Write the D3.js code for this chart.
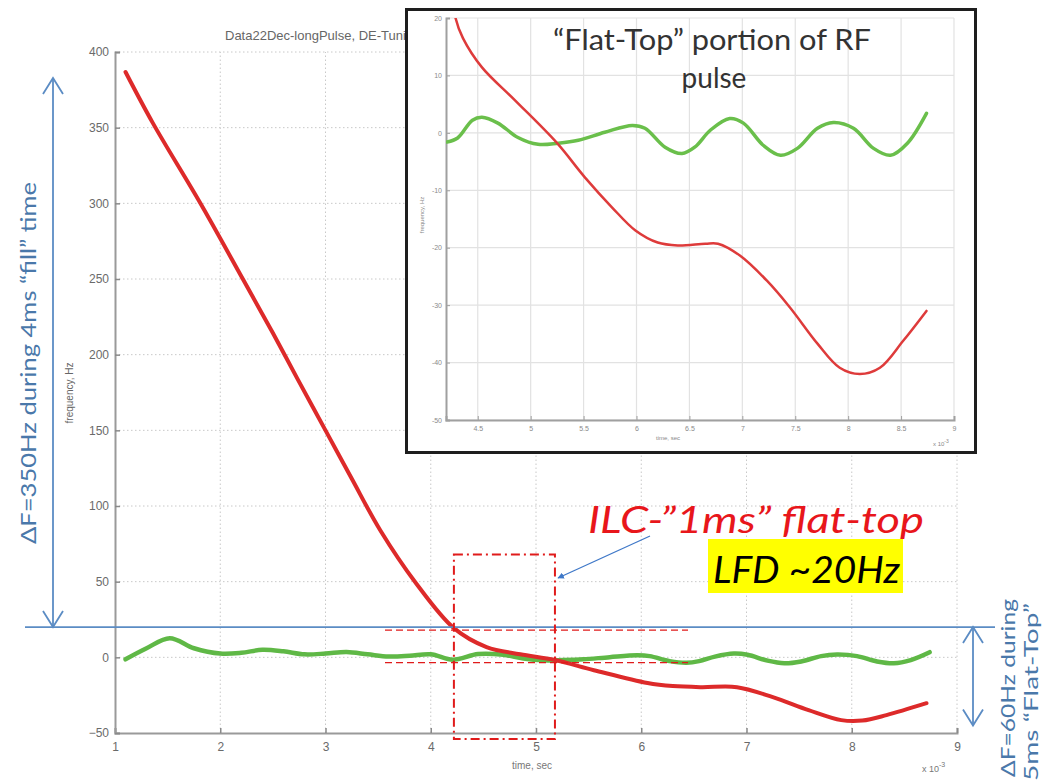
<!DOCTYPE html>
<html>
<head>
<meta charset="utf-8">
<script src="https://cdn.jsdelivr.net/npm/d3@7"></script>
<style>
  body { margin: 0; background: #fff; }
  svg { display: block; }
</style>
</head>
<body>
<div id="chart"></div>
<script>
// main plot: time (x 1e-3 s) vs frequency (Hz)
const mainXTicks = [1, 2, 3, 4, 5, 6, 7, 8, 9];
const mainYTicks = [-50, 0, 50, 100, 150, 200, 250, 300, 350, 400];
const mainRed = [
  [1.10, 386.8], [1.36, 353], [1.81, 300.2], [2.22, 249.3], [2.50, 214.3], [2.73, 184.5],
  [3.00, 150], [3.25, 118], [3.52, 84], [3.86, 49], [4.22, 19.3], [4.53, 6.8], [4.85, 2],
  [5.18, -1.8], [5.55, -8.5], [6.06, -17], [6.30, -19], [6.57, -19.7], [6.91, -19.7],
  [7.25, -26.3], [7.59, -34.9], [7.90, -41.5], [8.10, -41.8], [8.33, -38.2], [8.71, -30.3]
];
const mainGreen = [
  [1.10, -1.3], [1.30, 6], [1.52, 12.6], [1.75, 6], [2.0, 2.5], [2.2, 3], [2.4, 5], [2.6, 4],
  [2.8, 2], [3.0, 2.5], [3.2, 3.5], [3.4, 2], [3.6, 0.5], [3.8, 1], [4.0, 2], [4.21, -1.6],
  [4.45, 2.2], [4.69, 1.7], [4.88, -0.8], [5.07, -2.0], [5.26, -1.8], [5.45, -1.3], [5.70, 0.1],
  [5.96, 1.3], [6.08, 0.8], [6.27, -2.5], [6.43, -3.6], [6.55, -2.5], [6.70, 0.5], [6.88, 2.5],
  [7.01, 1.7], [7.20, -2.2], [7.36, -3.9], [7.52, -2.7], [7.71, 0.8], [7.86, 1.8], [8.05, 0.8],
  [8.24, -2.7], [8.40, -3.9], [8.56, -1.8], [8.74, 3.4]
];

// inset: flat-top portion
const insetXTicks = [4.5, 5, 5.5, 6, 6.5, 7, 7.5, 8, 8.5, 9];
const insetYTicks = [-50, -40, -30, -20, -10, 0, 10, 20];
const insetRed = [
  [4.25, 26], [4.29, 20], [4.36, 16.5], [4.54, 11.4], [4.85, 5.7], [5.25, -1.8], [5.51, -7.7],
  [5.77, -13.0], [5.99, -17.0], [6.20, -19.1], [6.39, -19.6], [6.65, -19.3], [6.77, -19.3],
  [6.98, -21.4], [7.23, -25.7], [7.45, -30.4], [7.71, -36.7], [7.92, -40.9], [8.11, -42.0],
  [8.30, -40.9], [8.52, -36.2], [8.74, -31.0]
];
const insetGreen = [
  [4.21, -1.6], [4.31, -0.9], [4.45, 2.2], [4.54, 2.7], [4.69, 1.7], [4.88, -0.8], [5.07, -2.0],
  [5.26, -1.8], [5.45, -1.3], [5.70, 0.1], [5.96, 1.3], [6.08, 0.8], [6.27, -2.5], [6.43, -3.6],
  [6.55, -2.5], [6.70, 0.5], [6.88, 2.5], [7.01, 1.7], [7.20, -2.2], [7.36, -3.9], [7.52, -2.7],
  [7.71, 0.8], [7.86, 1.8], [8.05, 0.8], [8.24, -2.7], [8.40, -3.9], [8.56, -1.8], [8.74, 3.4]
];

const width = 1051;
const height = 781;
const blue = "#5b8cc4";
const red = "#e01b1b";

const svg = d3.select("#chart").append("svg")
  .attr("width", width)
  .attr("height", height);

const defs = svg.append("defs");
defs.append("marker")
  .attr("id", "tri")
  .attr("viewBox", "0 0 10 10")
  .attr("refX", 9).attr("refY", 5)
  .attr("markerWidth", 5).attr("markerHeight", 5)
  .attr("orient", "auto")
  .append("path").attr("d", "M0,0L10,5L0,10z").attr("fill", "#3f78c8");

// ---------- main axes ----------
const x = d3.scaleLinear().domain([1, 9]).range([115, 957]);
const y = d3.scaleLinear().domain([-50, 400]).range([733, 52]);

const grid = svg.append("g");
grid.selectAll(".gx").data(mainXTicks.slice(1)).enter().append("line")
  .attr("x1", d => x(d)).attr("x2", d => x(d))
  .attr("y1", y(-50)).attr("y2", y(400))
  .attr("stroke", "#c8c8c8").attr("stroke-dasharray", "1.5,2.5");
grid.selectAll(".gy").data(mainYTicks.slice(1)).enter().append("line")
  .attr("x1", x(1)).attr("x2", x(9))
  .attr("y1", d => y(d)).attr("y2", d => y(d))
  .attr("stroke", "#c8c8c8").attr("stroke-dasharray", "1.5,2.5");

const xAxis = svg.append("g")
  .attr("transform", `translate(0,${y(-50)})`)
  .call(d3.axisBottom(x).tickValues(mainXTicks).tickSize(-5).tickPadding(9));
const yAxis = svg.append("g")
  .attr("transform", `translate(${x(1)},0)`)
  .call(d3.axisLeft(y).tickValues(mainYTicks).tickSize(-5).tickPadding(6));
[xAxis, yAxis].forEach(a => {
  a.select(".domain").attr("stroke", "#9a9a9a").attr("stroke-width", 2);
  a.selectAll(".tick line").attr("stroke", "#8a8a8a").attr("stroke-width", 1.5);
  a.selectAll("text").attr("fill", "#6a6a6a").attr("font-size", 12)
    .attr("font-family", "Liberation Sans Narrow, Liberation Sans, sans-serif");
});

svg.append("text").attr("x", 225).attr("y", 40)
  .attr("font-family", "Liberation Sans, sans-serif").attr("font-size", 13).attr("fill", "#666")
  .text("Data22Dec-longPulse, DE-Tuning");
svg.append("text").attr("transform", "translate(73,393) rotate(-90)")
  .attr("text-anchor", "middle")
  .attr("font-family", "Liberation Sans, sans-serif").attr("font-size", 10).attr("fill", "#666")
  .text("frequency, Hz");
svg.append("text").attr("x", 532).attr("y", 769).attr("text-anchor", "middle")
  .attr("font-family", "Liberation Sans, sans-serif").attr("font-size", 10).attr("fill", "#777")
  .text("time, sec");
const mult = svg.append("text").attr("x", 922).attr("y", 772)
  .attr("font-family", "Liberation Sans, sans-serif").attr("font-size", 9).attr("fill", "#777");
mult.append("tspan").text("x 10");
mult.append("tspan").attr("dy", -5).attr("font-size", 7).text("-3");

const line = d3.line().x(d => x(d[0])).y(d => y(d[1])).curve(d3.curveCatmullRom);
svg.append("path").datum(mainGreen).attr("d", line)
  .attr("fill", "none").attr("stroke", "#5fb846").attr("stroke-width", 4.5)
  .attr("stroke-linejoin", "round").attr("stroke-linecap", "round");
svg.append("path").datum(mainRed).attr("d", line)
  .attr("fill", "none").attr("stroke", "#dd2a2a").attr("stroke-width", 4)
  .attr("stroke-linejoin", "round").attr("stroke-linecap", "round");

// ---------- annotations on main plot ----------
const levelHi = 20;   // blue reference line, Hz
svg.append("line").attr("x1", 25).attr("x2", 995)
  .attr("y1", y(levelHi)).attr("y2", y(levelHi))
  .attr("stroke", blue).attr("stroke-width", 1.8);

function dblArrow(ax, yTop, yBot) {
  const g = svg.append("g").attr("stroke", blue).attr("stroke-width", 1.8).attr("fill", "none");
  g.append("line").attr("x1", ax).attr("x2", ax).attr("y1", yTop).attr("y2", yBot);
  g.append("path").attr("d", `M${ax - 10},${yTop + 16}L${ax},${yTop}L${ax + 10},${yTop + 16}`);
  g.append("path").attr("d", `M${ax - 10},${yBot - 16}L${ax},${yBot}L${ax + 10},${yBot - 16}`);
}
dblArrow(53, 78, y(levelHi));
dblArrow(973, y(levelHi), y(-45));

svg.append("text").attr("transform", "translate(36,363) rotate(-90)")
  .attr("text-anchor", "middle")
  .attr("font-family", "Lato, Noto Sans, sans-serif").attr("font-size", 22).attr("fill", "#4a78aa")
  .attr("textLength", 362).attr("lengthAdjust", "spacingAndGlyphs")
  .text("ΔF=350Hz during 4ms “fill” time");
svg.append("text").attr("transform", "translate(1015,688) rotate(-90)")
  .attr("text-anchor", "middle")
  .attr("font-family", "Lato, Noto Sans, sans-serif").attr("font-size", 19).attr("fill", "#4a78aa")
  .attr("textLength", 178).attr("lengthAdjust", "spacingAndGlyphs")
  .text("ΔF=60Hz during");
svg.append("text").attr("transform", "translate(1038,692) rotate(-90)")
  .attr("text-anchor", "middle")
  .attr("font-family", "Lato, Noto Sans, sans-serif").attr("font-size", 19).attr("fill", "#4a78aa")
  .attr("textLength", 178).attr("lengthAdjust", "spacingAndGlyphs")
  .text("5ms “Flat-Top”");

// red flat-top window
svg.append("rect")
  .attr("x", x(4.22)).attr("y", y(68))
  .attr("width", x(5.18) - x(4.22)).attr("height", y(-54) - y(68))
  .attr("fill", "none").attr("stroke", red).attr("stroke-width", 2)
  .attr("stroke-dasharray", "9,4,2,4");
[18, -3.5].forEach(v => {
  svg.append("line").attr("x1", 385).attr("x2", 688)
    .attr("y1", y(v)).attr("y2", y(v))
    .attr("stroke", red).attr("stroke-width", 1.3).attr("stroke-dasharray", "7,4");
});

svg.append("line").attr("x1", 650).attr("y1", 536).attr("x2", 558).attr("y2", 578)
  .attr("stroke", "#3f78c8").attr("stroke-width", 1.3).attr("marker-end", "url(#tri)");

svg.append("text").attr("x", 588).attr("y", 533)
  .attr("font-family", "Lato, Noto Sans, sans-serif").attr("font-style", "italic")
  .attr("font-size", 36).attr("fill", "#e8161b")
  .attr("textLength", 336).attr("lengthAdjust", "spacingAndGlyphs")
  .text("ILC-”1ms” flat-top");
svg.append("rect").attr("x", 708).attr("y", 539).attr("width", 195).attr("height", 54)
  .attr("fill", "#ffff00");
svg.append("text").attr("x", 713).attr("y", 583)
  .attr("font-family", "Lato, Noto Sans, sans-serif").attr("font-style", "italic")
  .attr("font-size", 36).attr("fill", "#000")
  .attr("textLength", 187).attr("lengthAdjust", "spacingAndGlyphs")
  .text("LFD ~20Hz");

// ---------- inset ----------
svg.append("rect").attr("x", 406.5).attr("y", 9.5).attr("width", 569).attr("height", 443)
  .attr("fill", "#fff").attr("stroke", "#1e1e1e").attr("stroke-width", 3);

const xi = d3.scaleLinear().domain([4.2, 9]).range([446, 954]);
const yi = d3.scaleLinear().domain([-50, 20]).range([420, 18]);

defs.append("clipPath").attr("id", "insetClip")
  .append("rect").attr("x", xi(4.2)).attr("y", yi(20))
  .attr("width", xi(9) - xi(4.2)).attr("height", yi(-50) - yi(20));

const ig = svg.append("g");
ig.selectAll(".igx").data(insetXTicks).enter().append("line")
  .attr("x1", d => xi(d)).attr("x2", d => xi(d))
  .attr("y1", yi(-50)).attr("y2", yi(20))
  .attr("stroke", "#e2e2e2").attr("stroke-width", 1.2);
ig.selectAll(".igy").data(insetYTicks).enter().append("line")
  .attr("x1", xi(4.2)).attr("x2", xi(9))
  .attr("y1", d => yi(d)).attr("y2", d => yi(d))
  .attr("stroke", "#e2e2e2").attr("stroke-width", 1.2);

const ixAxis = svg.append("g")
  .attr("transform", `translate(0,${yi(-50)})`)
  .call(d3.axisBottom(xi).tickValues(insetXTicks).tickFormat(d => String(d)).tickSize(-4).tickPadding(6));
const iyAxis = svg.append("g")
  .attr("transform", `translate(${xi(4.2)},0)`)
  .call(d3.axisLeft(yi).tickValues(insetYTicks).tickFormat(d => String(d)).tickSize(-4).tickPadding(4));
[ixAxis, iyAxis].forEach(a => {
  a.select(".domain").attr("stroke", "#a0a0a0").attr("stroke-width", 2);
  a.selectAll(".tick line").attr("stroke", "#a0a0a0");
  a.selectAll("text").attr("fill", "#8a8a8a").attr("font-size", 7)
    .attr("font-family", "Liberation Sans, sans-serif");
});

svg.append("text").attr("transform", "translate(424,215) rotate(-90)")
  .attr("text-anchor", "middle")
  .attr("font-family", "Liberation Sans, sans-serif").attr("font-size", 6).attr("fill", "#888")
  .text("frequency, Hz");
svg.append("text").attr("x", 668).attr("y", 440).attr("text-anchor", "middle")
  .attr("font-family", "Liberation Sans, sans-serif").attr("font-size", 6).attr("fill", "#888")
  .text("time, sec");
const imult = svg.append("text").attr("x", 933).attr("y", 446)
  .attr("font-family", "Liberation Sans, sans-serif").attr("font-size", 6).attr("fill", "#888");
imult.append("tspan").text("x 10");
imult.append("tspan").attr("dy", -3).attr("font-size", 5).text("-3");

const iline = d3.line().x(d => xi(d[0])).y(d => yi(d[1])).curve(d3.curveCatmullRom);
const plot = svg.append("g").attr("clip-path", "url(#insetClip)");
plot.append("path").datum(insetGreen).attr("d", iline)
  .attr("fill", "none").attr("stroke", "#6abf4b").attr("stroke-width", 3.5)
  .attr("stroke-linejoin", "round").attr("stroke-linecap", "round");
plot.append("path").datum(insetRed).attr("d", iline)
  .attr("fill", "none").attr("stroke", "#de3b3b").attr("stroke-width", 2.5)
  .attr("stroke-linejoin", "round").attr("stroke-linecap", "round");

const ititle = svg.append("text").attr("text-anchor", "middle")
  .attr("font-family", "Lato, Noto Sans, sans-serif").attr("font-size", 28).attr("fill", "#333");
ititle.append("tspan").attr("x", 712).attr("y", 50)
  .attr("textLength", 318).attr("lengthAdjust", "spacingAndGlyphs")
  .text("“Flat-Top” portion of RF");
ititle.append("tspan").attr("x", 714).attr("y", 88).text("pulse");
</script>
</body>
</html>
